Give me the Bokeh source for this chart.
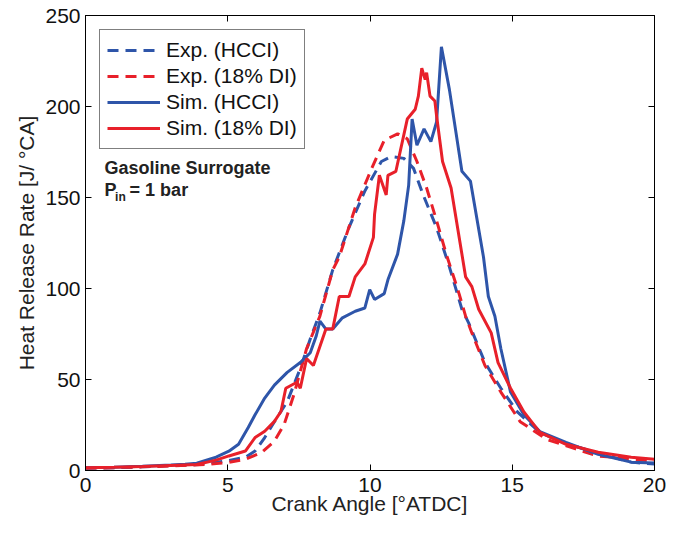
from bokeh.plotting import figure
from bokeh.models import (Range1d, LinearAxis, FixedTicker, Legend, LegendItem,
                          Label, CustomJSTickFormatter)
from bokeh.embed import file_html
from bokeh.resources import INLINE

# ---- data ----
x_exp_hcci = [0, 1, 2, 3, 4, 4.6, 5.04, 5.62, 5.96, 6.30, 6.64, 7.09, 7.55, 7.90, 8.24, 8.69, 9.26,
              9.82, 10.40, 10.74, 11.19, 11.53, 11.87, 12.34, 12.79, 13.23, 13.47, 14.04, 14.60,
              15.18, 15.97, 16.89, 18.02, 19.18, 20.0]
y_exp_hcci = [1.2, 1.5, 2.0, 2.6, 3.3, 4.5, 5.5, 7.3, 10.7, 18.1, 26.8, 37.8, 56.1, 72.3, 86.6, 110.2, 133.5,
              153.6, 169.8, 172.5, 171.5, 166.0, 151.4, 133.5, 111.9, 88.6, 81.0, 59.3, 45.2,
              32.2, 20.9, 14.9, 9.5, 4.6, 3.5]

x_exp_di = [0, 1, 2, 3, 4, 4.6, 5.04, 5.62, 6.19, 6.64, 6.98, 7.32, 7.77, 8.24, 8.69, 8.92, 9.48,
            10.06, 10.50, 10.97, 11.31, 11.65, 11.99, 12.34, 12.68, 13.13, 13.36, 13.58, 14.04,
            14.60, 15.28, 16.21, 17.2, 18.02, 18.6, 19.3, 20.0]
y_exp_di = [1.3, 1.5, 2.0, 2.5, 3.1, 3.8, 4.5, 6.2, 9.9, 16.1, 25.2, 41.4, 66.9, 84.8, 110.2, 117.3, 144.4,
            166.0, 181.4, 185.0, 182.3, 169.8, 155.2, 137.3, 118.9, 97.2, 84.8, 75.6, 57.7,
            43.1, 26.8, 17.1, 12.0, 7.9, 7.3, 6.0, 5.1]

x_sim_hcci = [0, 1, 2, 3, 3.5, 3.91, 4.59, 5.04, 5.38, 5.72, 5.96, 6.30, 6.64, 7.09, 7.55, 7.90, 8.11,
              8.24, 8.45, 8.69, 9.03, 9.48, 9.82, 9.99, 10.16, 10.50, 10.63, 10.97, 11.19, 11.36,
              11.48, 11.65, 11.90, 12.14, 12.34, 12.51, 12.79, 13.23, 13.53, 13.99, 14.16, 14.39,
              14.60, 14.94, 15.41, 15.97, 16.89, 18.02, 19.18, 20.0]
y_sim_hcci = [1.5, 1.8, 2.3, 3.0, 3.5, 4.0, 7.3, 10.6, 14.4, 23.6, 30.6, 39.8, 46.9, 53.9, 59.3, 64.7, 73.9,
              82.1, 77.7, 77.7, 83.9, 87.5, 89.3, 99.4, 94.0, 97.2, 104.8, 118.9, 137.3, 156.8,
              193.1, 178.7, 187.7, 180.7, 191.5, 232.8, 209.4, 164.4, 159.0, 117.2, 95.6, 84.8,
              66.9, 43.1, 30.6, 21.4, 15.4, 8.9, 4.6, 4.1]

x_sim_di = [0, 1, 2, 3, 3.91, 4.59, 5.04, 5.62, 5.96, 6.30, 6.64, 6.87, 7.04, 7.43, 7.55, 7.77, 8.01,
            8.45, 8.69, 8.92, 9.26, 9.48, 9.82, 10.12, 10.16, 10.33, 10.57, 10.63, 10.91, 11.31,
            11.59, 11.70, 11.82, 11.94, 11.99, 12.11, 12.28, 12.34, 12.55, 12.85, 13.23, 13.36,
            13.58, 13.82, 14.26, 14.50, 14.94, 15.41, 15.97, 16.89, 18.02, 19.18, 20.0]
y_sim_di = [1.5, 1.8, 2.2, 2.8, 3.3, 5.7, 8.0, 10.7, 18.1, 21.6, 27.0, 32.4, 45.2, 48.5, 45.2, 61.5, 57.7,
            77.7, 77.7, 95.6, 95.6, 106.4, 113.5, 128.1, 140.7, 162.2, 151.4, 162.2, 164.4, 193.1,
            198.5, 205.7, 221.1, 214.8, 218.6, 205.7, 203.0, 194.9, 169.8, 155.2, 118.9, 106.4,
            101.0, 88.6, 75.6, 59.3, 45.2, 32.2, 20.9, 14.4, 10.0, 7.3, 6.2]

series_labels = ["Exp. (HCCI)", "Exp. (18% DI)", "Sim. (HCCI)", "Sim. (18% DI)"]
x_tick_values = [0, 5, 10, 15, 20]
y_tick_values = [0, 50, 100, 150, 200, 250]

BLUE = "#2e55a9"
RED = "#e8202a"
FONT = "Liberation Sans"

p = figure(width=666, height=517, output_backend="svg", toolbar_location=None,
           x_range=Range1d(x_tick_values[0], x_tick_values[-1]),
           y_range=Range1d(y_tick_values[0], y_tick_values[-1]),
           min_border_left=85, min_border_right=12, min_border_top=15, min_border_bottom=46,
           background_fill_color="white", border_fill_color="white")
p.xgrid.visible = False
p.ygrid.visible = False
p.outline_line_color = "black"
p.outline_line_width = 1

r1 = p.line(x_exp_hcci, y_exp_hcci, line_color=BLUE, line_width=3, line_dash="11 7")
r2 = p.line(x_exp_di, y_exp_di, line_color=RED, line_width=3, line_dash="11 7")
r3 = p.line(x_sim_hcci, y_sim_hcci, line_color=BLUE, line_width=3)
r4 = p.line(x_sim_di, y_sim_di, line_color=RED, line_width=3)

def style_axis(ax, labels=True):
    ax.major_tick_in = 6
    ax.major_tick_out = 0
    ax.minor_tick_line_color = None
    ax.axis_line_color = "black"
    ax.major_tick_line_color = "black"
    if labels:
        ax.major_label_text_font = FONT
        ax.major_label_text_font_size = "21px"
        ax.major_label_text_color = "#111111"
        ax.axis_label_text_font = FONT
        ax.axis_label_text_font_size = "21px"
        ax.axis_label_text_font_style = "normal"
        ax.axis_label_text_color = "#222222"
    else:
        ax.formatter = CustomJSTickFormatter(code="return ''")
        ax.major_label_standoff = 0

xa = p.xaxis[0]
ya = p.yaxis[0]
xa.ticker = FixedTicker(ticks=x_tick_values)
ya.ticker = FixedTicker(ticks=y_tick_values)
style_axis(xa)
style_axis(ya)
xa.axis_label = "Crank Angle [°ATDC]"
ya.axis_label = "Heat Release Rate [J/ °CA]"
xa.major_label_standoff = 7
xa.axis_label_standoff = -3
ya.major_label_standoff = 5
ya.axis_label_standoff = 4

top = LinearAxis(ticker=FixedTicker(ticks=x_tick_values))
right = LinearAxis(ticker=FixedTicker(ticks=y_tick_values))
style_axis(top, labels=False)
style_axis(right, labels=False)
p.add_layout(top, "above")
p.add_layout(right, "right")

legend = Legend(items=[LegendItem(label=series_labels[0], renderers=[r1]),
                       LegendItem(label=series_labels[1], renderers=[r2]),
                       LegendItem(label=series_labels[2], renderers=[r3]),
                       LegendItem(label=series_labels[3], renderers=[r4])],
                location="top_left", margin=14, padding=7, spacing=0,
                label_height=26, glyph_height=26, glyph_width=53, label_standoff=6,
                label_text_font=FONT, label_text_font_size="21px", label_text_color="#111111",
                border_line_color="black", border_line_width=1.5,
                background_fill_color="white", background_fill_alpha=1.0)
p.add_layout(legend)

p.add_layout(Label(x=0.67, y=166, text="Gasoline Surrogate", text_font=FONT,
                   text_font_style="bold", text_font_size="18px", text_color="#222222",
                   text_baseline="alphabetic"))
p.add_layout(Label(x=0.67, y=154.3, text="P", text_font=FONT,
                   text_font_style="bold", text_font_size="18px", text_color="#222222",
                   text_baseline="alphabetic"))
p.add_layout(Label(x=1.04, y=150.5, text="in", text_font=FONT,
                   text_font_style="bold", text_font_size="12px", text_color="#222222",
                   text_baseline="alphabetic"))
p.add_layout(Label(x=1.55, y=154.3, text="= 1 bar", text_font=FONT,
                   text_font_style="bold", text_font_size="18px", text_color="#222222",
                   text_baseline="alphabetic"))

open("out.html", "w").write(file_html(p, INLINE))
